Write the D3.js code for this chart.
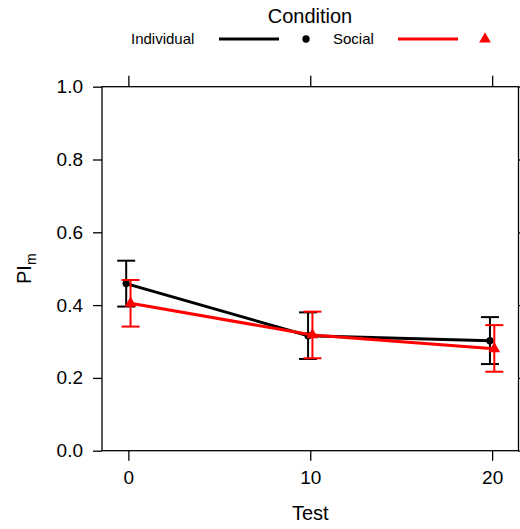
<!DOCTYPE html>
<html><head><meta charset="utf-8">
<script src="https://cdn.jsdelivr.net/npm/d3@7"></script>
<style>body{margin:0;background:#fff}svg{display:block}text{font-family:"Liberation Sans",Arial,sans-serif;fill:#000}</style>
</head><body>
<script>
const tests = [0, 10, 20];
const groups = ["Individual", "Social"];
const indivMean = [0.459, 0.316, 0.302];
const indivLo = [0.396, 0.252, 0.238];
const indivHi = [0.522, 0.380, 0.367];
const socialMean = [0.405, 0.318, 0.280];
const socialLo = [0.341, 0.254, 0.217];
const socialHi = [0.469, 0.382, 0.345];
const yTicks = [0, 0.2, 0.4, 0.6, 0.8, 1.0];
const xTicks = [0, 10, 20];
const colors = ["#000000", "#ff0000"];

const W = 520, H = 529;
const svg = d3.select("body").append("svg").attr("width", W).attr("height", H);
const L = 102, R = 518.5, T = 86.7, B = 450.7;
const x = d3.scaleLinear().domain([-1.45, 21.45]).range([L, R]);
const y = d3.scaleLinear().domain([0, 1]).range([B, T]);

const series = [
  {name: groups[0], mean: indivMean, lo: indivLo, hi: indivHi, color: colors[0], shape: "circle", dodge: -0.12},
  {name: groups[1], mean: socialMean, lo: socialLo, hi: socialHi, color: colors[1], shape: "triangle", dodge: 0.12}
];

// panel border
svg.append("rect").attr("x", L).attr("y", T).attr("width", R - L).attr("height", B - T)
  .attr("fill", "none").attr("stroke", "#000").attr("stroke-width", 1.3);

// axes
const fmt = d3.format(".1f");
const gl = svg.append("g").attr("transform", `translate(${L},0)`)
  .call(d3.axisLeft(y).tickValues(yTicks).tickFormat(fmt).tickSize(9).tickPadding(10));
const gr = svg.append("g").attr("transform", `translate(${R},0)`)
  .call(d3.axisRight(y).tickValues(yTicks).tickFormat("").tickSize(9));
const gb = svg.append("g").attr("transform", `translate(0,${B})`)
  .call(d3.axisBottom(x).tickValues(xTicks).tickFormat(d3.format("d")).tickSize(10).tickPadding(10));
const gt = svg.append("g").attr("transform", `translate(0,${T})`)
  .call(d3.axisTop(x).tickValues(xTicks).tickFormat("").tickSize(11));
[gl, gr, gb, gt].forEach(g => {
  g.select(".domain").remove();
  g.selectAll(".tick line").attr("stroke", "#000").attr("stroke-width", 1.3);
  g.selectAll("text").attr("font-family", "Liberation Sans, Arial, sans-serif").attr("font-size", 19).attr("fill", "#000");
});

// axis titles
svg.append("text").attr("x", (L + R) / 2).attr("y", 520).attr("text-anchor", "middle").attr("font-size", 20).text("Test");
const yl = svg.append("text").attr("transform", `translate(31,${(T + B) / 2}) rotate(-90)`).attr("text-anchor", "middle").attr("font-size", 20);
yl.append("tspan").text("PI");
yl.append("tspan").attr("font-size", 14).attr("dy", 5).text("m");

const tri = d3.symbol().type(d3.symbolTriangle).size(60);
const circ = d3.symbol().type(d3.symbolCircle).size(42);

series.forEach(s => {
  const g = svg.append("g");
  const px = i => x(tests[i] + s.dodge);
  // error bars
  tests.forEach((t, i) => {
    g.append("line").attr("x1", px(i)).attr("x2", px(i)).attr("y1", y(s.lo[i])).attr("y2", y(s.hi[i]))
      .attr("stroke", s.color).attr("stroke-width", 2);
    [s.lo[i], s.hi[i]].forEach(v => {
      g.append("line").attr("x1", px(i) - 9).attr("x2", px(i) + 9).attr("y1", y(v)).attr("y2", y(v))
        .attr("stroke", s.color).attr("stroke-width", 2);
    });
  });
  // line
  const line = d3.line().x((d, i) => px(i)).y(d => y(d));
  g.append("path").datum(s.mean).attr("d", line).attr("fill", "none").attr("stroke", s.color).attr("stroke-width", 3);
  // points
  s.mean.forEach((m, i) => {
    g.append("path").attr("d", s.shape === "circle" ? circ() : tri())
      .attr("transform", `translate(${px(i)},${y(m)})`).attr("fill", s.color);
  });
});

// legend
svg.append("text").attr("x", 310).attr("y", 23).attr("text-anchor", "middle").attr("font-size", 20).text("Condition");
const ly = 39;
const lg = svg.append("g");
lg.append("text").attr("x", 131).attr("y", ly + 5).attr("font-size", 15).text(groups[0]);
lg.append("line").attr("x1", 219).attr("x2", 279).attr("y1", ly).attr("y2", ly).attr("stroke", colors[0]).attr("stroke-width", 3);
lg.append("path").attr("d", circ()).attr("transform", `translate(306,${ly})`).attr("fill", colors[0]);
lg.append("text").attr("x", 333).attr("y", ly + 5).attr("font-size", 15).text(groups[1]);
lg.append("line").attr("x1", 398).attr("x2", 458).attr("y1", ly).attr("y2", ly).attr("stroke", colors[1]).attr("stroke-width", 3);
lg.append("path").attr("d", tri()).attr("transform", `translate(485,${ly})`).attr("fill", colors[1]);
</script>
</body></html>
